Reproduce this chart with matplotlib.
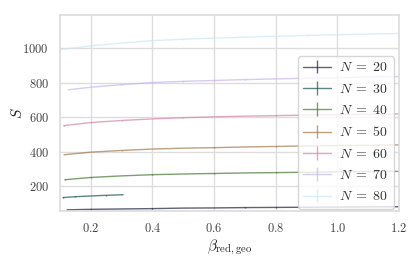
import matplotlib
matplotlib.use("Agg")
import matplotlib.pyplot as plt
import seaborn as sns

N_values = [20, 30, 40, 50, 60, 70, 80]

x20 = [0.123, 0.2, 0.3, 0.4, 0.5, 0.6, 0.7, 0.8, 0.9, 1.0, 1.1, 1.2]
y20 = [65, 68, 70, 72, 75, 76, 78, 79, 80, 81, 82, 83]
x30 = [0.11, 0.15, 0.2, 0.25, 0.305]
y30 = [136, 141, 145, 149, 152]
x40 = [0.116, 0.2, 0.3, 0.4, 0.5, 0.6, 0.7, 0.8, 0.9, 1.0, 1.1, 1.2]
y40 = [239, 252, 261, 268, 272, 275, 278, 280, 282, 284, 286, 287]
x50 = [0.113, 0.2, 0.3, 0.4, 0.5, 0.6, 0.7, 0.8, 0.9, 1.0, 1.1, 1.2]
y50 = [383, 398, 408, 416, 421, 424, 428, 431, 434, 436, 438, 440]
x60 = [0.112, 0.2, 0.3, 0.4, 0.5, 0.6, 0.7, 0.8, 0.9, 1.0, 1.1, 1.2]
y60 = [551, 569, 581, 590, 597, 602, 606, 609, 612, 615, 617, 619]
x70 = [0.127, 0.2, 0.3, 0.4, 0.5, 0.6, 0.7, 0.8, 0.9, 1.0, 1.1, 1.2]
y70 = [758, 773, 788, 800, 807, 812, 817, 821, 825, 828, 832, 835]
x80 = [0.10, 0.2, 0.3, 0.4, 0.5, 0.6, 0.7, 0.8, 0.9, 1.0, 1.1, 1.2]
y80 = [990, 1012, 1028, 1042, 1050, 1056, 1062, 1067, 1072, 1076, 1080, 1083]
err = [1.5, 1.5, 1.5, 1.5, 1.5, 1.5, 1.5]

xs = [x20, x30, x40, x50, x60, x70, x80]
ys = [y20, y30, y40, y50, y60, y70, y80]

sns.set_theme(style="whitegrid")
plt.rcParams["font.family"] = ["cmr10", "DejaVu Serif"]
plt.rcParams["mathtext.fontset"] = "cm"
plt.rcParams["axes.formatter.use_mathtext"] = True
plt.rcParams["axes.unicode_minus"] = False

colors = sns.color_palette("cubehelix", 7)

fig = plt.figure(figsize=(4.15, 2.6), dpi=100)
ax = fig.add_axes([60/415, 1 - 210.7/260, (399-60)/415, (210.7-15)/260])

for N, x, y, e, c in zip(N_values, xs, ys, err, colors):
    ax.errorbar(x, y, yerr=e, color=c, lw=1.0, alpha=0.7, label=rf"$N\;=\;{N}$")

ax.set_xlim(0.1, 1.2)
ax.set_ylim(60, 1190)
ax.set_xticks([0.2, 0.4, 0.6, 0.8, 1.0, 1.2])
ax.set_yticks([200, 400, 600, 800, 1000])
ax.tick_params(labelsize=9, pad=2)
for lab in ax.get_xticklabels() + ax.get_yticklabels():
    lab.set_color("#444444")
ax.set_xlabel(r"$\beta_{\rm red,geo}$", fontsize=11, labelpad=2)
ax.set_ylabel(r"$S$", fontsize=11, labelpad=-2)
for s in ax.spines.values():
    s.set_color("#dddddd")
ax.grid(color="#dddddd")
leg = ax.legend(loc="lower right", bbox_to_anchor=(0.985, 0.009), borderaxespad=0,
                fontsize=10, framealpha=0.8, handlelength=2.0, labelspacing=0.6,
                handletextpad=0.6)
for t in leg.get_texts():
    t.set_color("#333333")
fig.savefig("out.png", dpi=100)
